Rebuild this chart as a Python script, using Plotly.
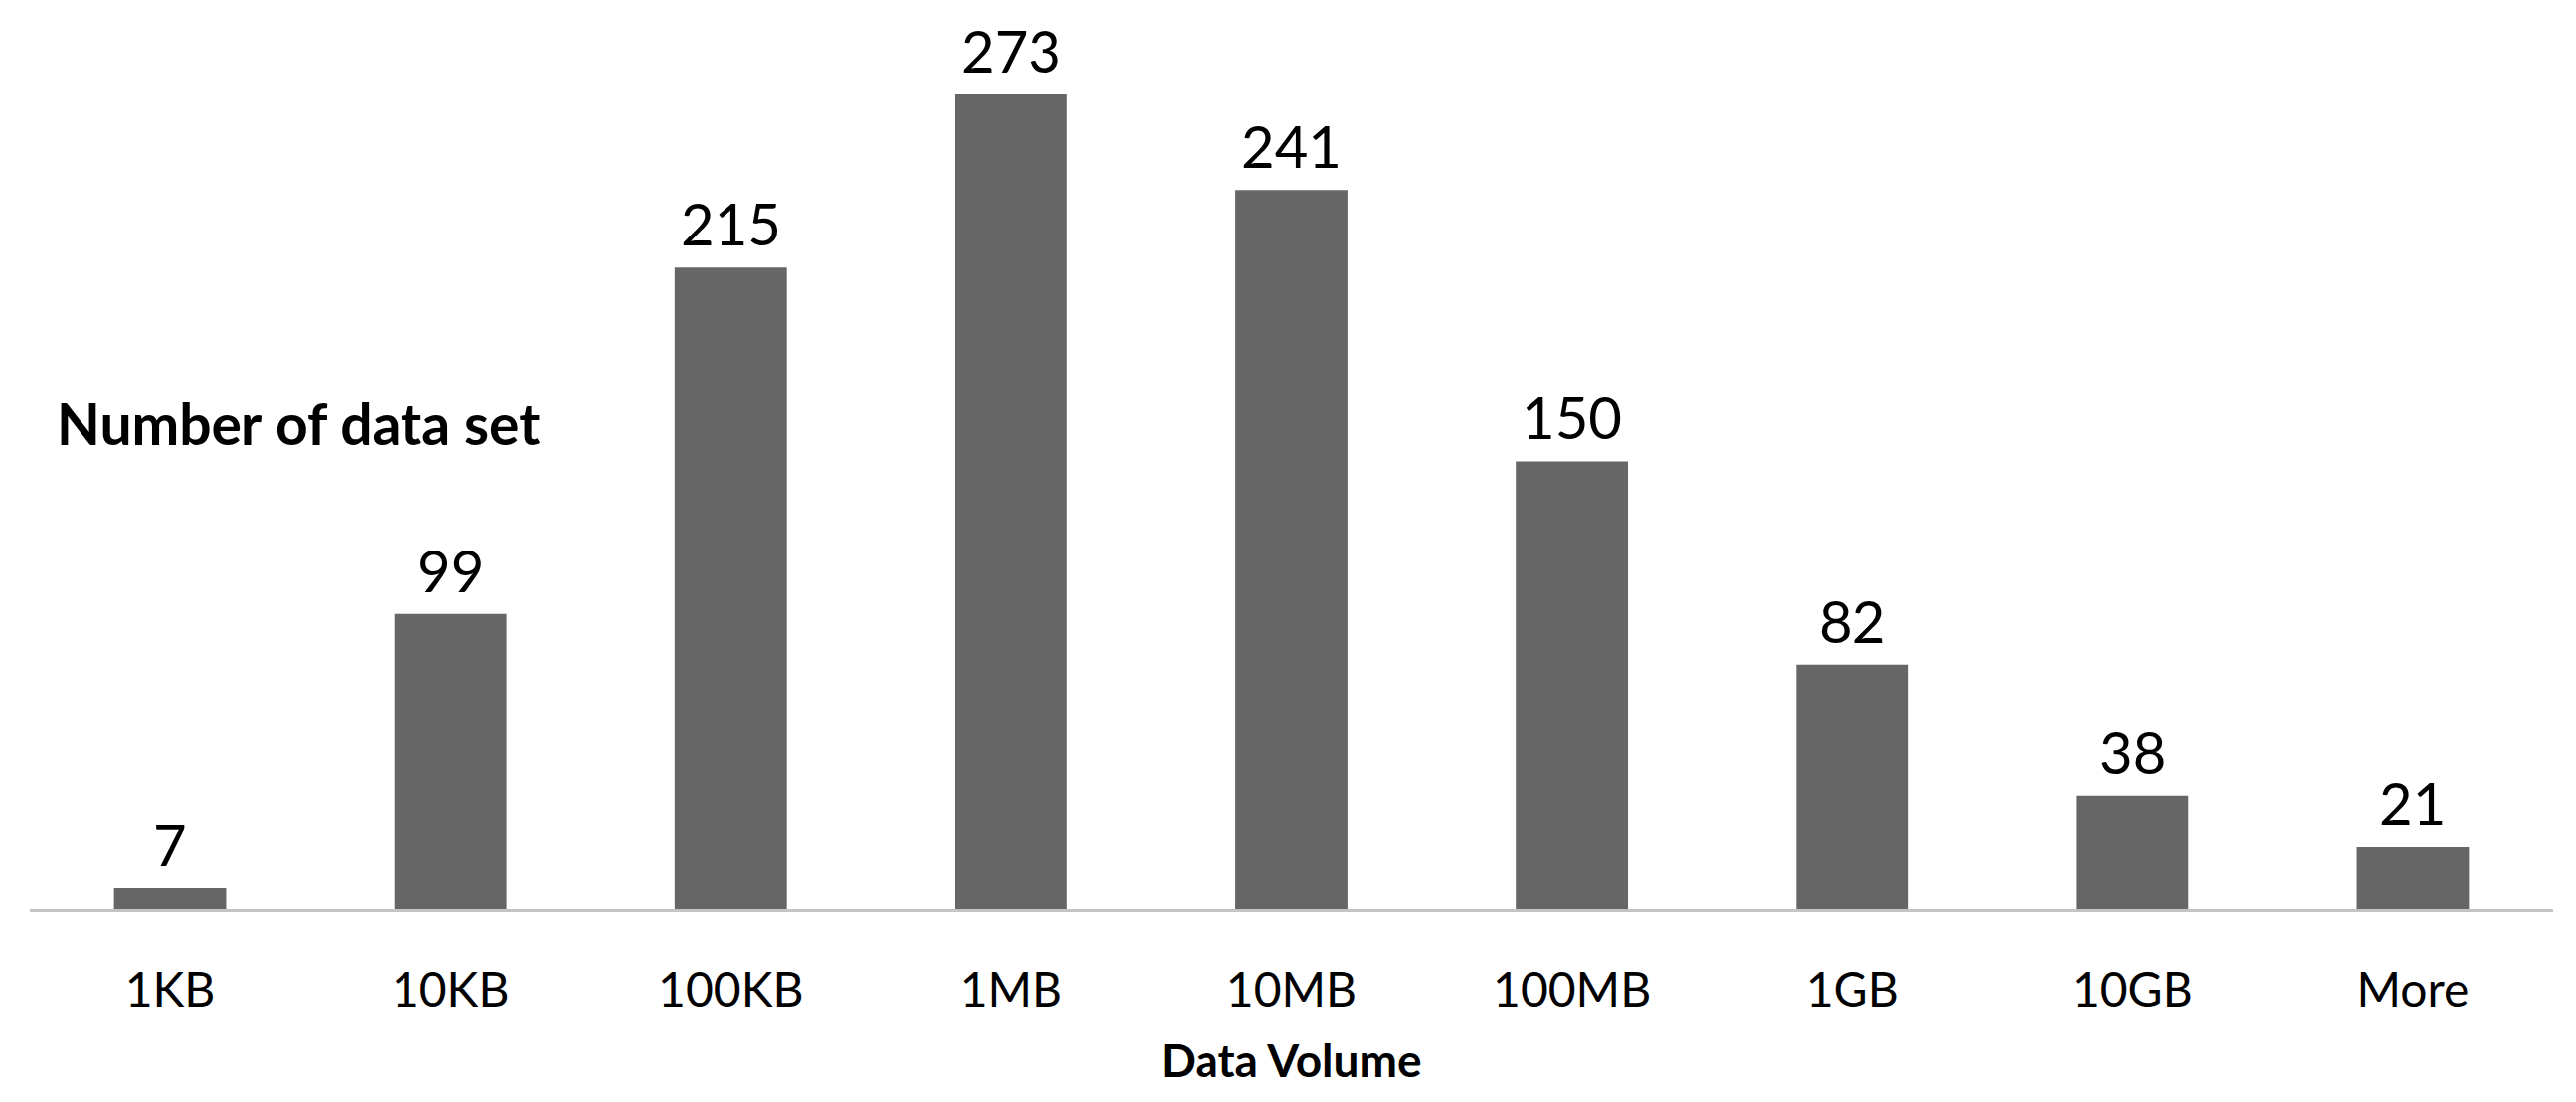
import plotly.graph_objects as go

categories = ["1KB", "10KB", "100KB", "1MB", "10MB", "100MB", "1GB", "10GB", "More"]
counts = [7, 99, 215, 273, 241, 150, 82, 38, 21]

FONT = "Lato"

fig = go.Figure()
fig.add_trace(
    go.Bar(
        x=categories,
        y=counts,
        width=0.4,
        marker=dict(color="#666666", line=dict(width=0)),
        showlegend=False,
    )
)

# value labels above bars
for cat, val in zip(categories, counts):
    fig.add_annotation(
        x=cat, y=val, text=str(val),
        showarrow=False, yanchor="bottom", yshift=8,
        font=dict(family=FONT, size=58, color="black"),
    )

fig.add_annotation(
    text="<b>Number of data set</b>",
    xref="paper", yref="paper", x=0.01, y=0.56,
    xanchor="left", yanchor="middle", showarrow=False,
    font=dict(family=FONT, size=57, color="black"),
)
fig.add_annotation(
    text="<b>Data Volume</b>",
    xref="paper", yref="paper", x=0.5, y=0, yshift=-151,
    xanchor="center", yanchor="middle", showarrow=False,
    font=dict(family=FONT, size=46, color="black"),
)

fig.update_layout(
    width=2592,
    height=1109,
    plot_bgcolor="white",
    paper_bgcolor="white",
    margin=dict(l=22, r=31, t=33, b=202),
    bargap=0.6,
    xaxis=dict(
        showline=True,
        linecolor="#c4c4c4",
        linewidth=3,
        showgrid=False,
        ticks="",
        ticklabelstandoff=37,
        tickfont=dict(family=FONT, size=48, color="black"),
    ),
    yaxis=dict(
        range=[0, 291],
        visible=False,
        showgrid=False,
    ),
)

fig.write_html("out.html")
